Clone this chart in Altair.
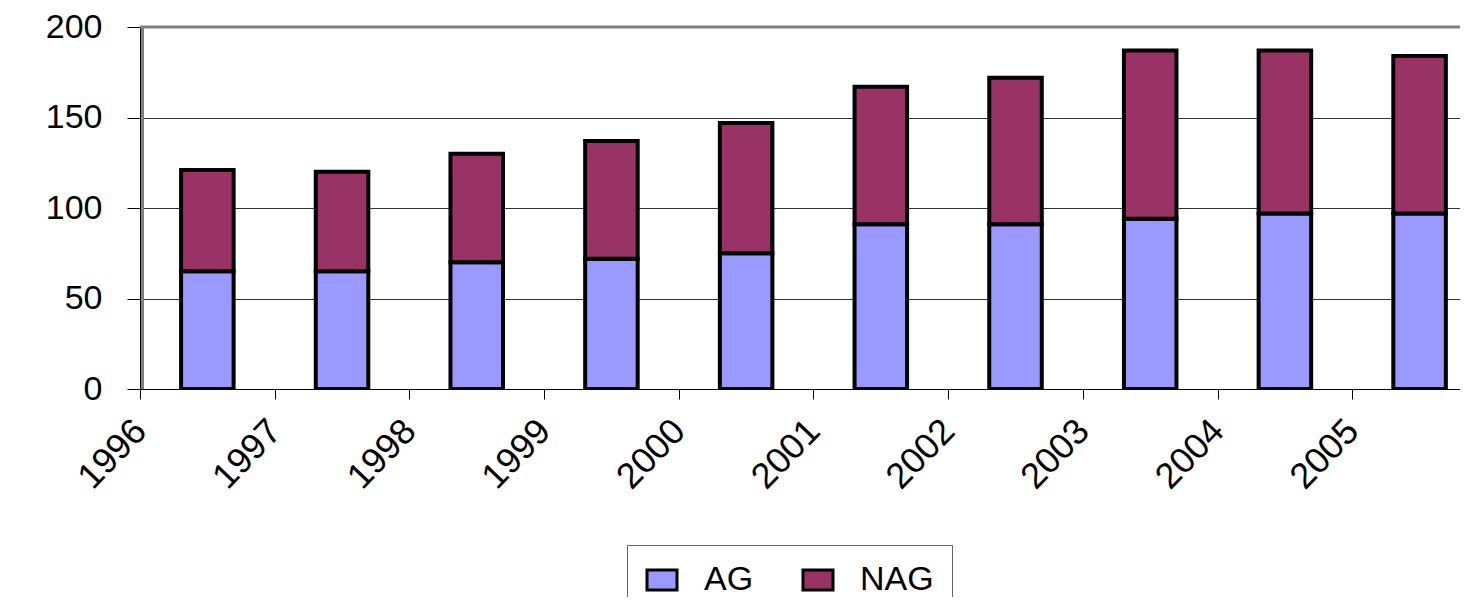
import json
import altair as alt
import pandas as pd

years = ["1996", "1997", "1998", "1999", "2000", "2001", "2002", "2003", "2004", "2005"]
ag = [65, 65, 70, 72, 75, 91, 91, 94, 97, 97]
nag = [56, 55, 60, 65, 72, 76, 81, 93, 90, 87]
series = ["AG", "NAG"]
colors = ["#9999FF", "#993366"]
y_ticks = [0, 50, 100, 150, 200]

W, H = 1320, 362
TOP = 19
FONT = "Liberation Sans"
half = 0.195

rows = []
for i, yr in enumerate(years):
    rows.append(dict(year=yr, idx=i, series="AG", lo=0, hi=ag[i]))
    rows.append(dict(year=yr, idx=i, series="NAG", lo=ag[i], hi=ag[i] + nag[i]))
df = pd.DataFrame(rows)
df["x0"] = df["idx"] + 0.5 - half
df["x1"] = df["idx"] + 0.5 + half

xscale = alt.Scale(domain=[0, 9.8], nice=False, zero=False)
yscale = alt.Scale(domain=[0, 200], nice=False)

bars = alt.Chart(df).mark_bar(stroke="black", strokeWidth=4, clip=True).encode(
    x=alt.X("x0:Q", scale=xscale,
            axis=alt.Axis(values=list(range(len(years))),
                          labelExpr=f"{json.dumps(years)}[datum.value]",
                          title="", grid=False, tickSize=10, tickColor="black",
                          domainColor="black", labelAngle=314, labelAlign="right",
                          labelBaseline="middle", labelFontSize=36, labelPadding=26,
                          labelFlush=False, labelOverlap=False, labelBound=False,
                          labelColor="black", labelFont=FONT)),
    x2="x1:Q",
    y=alt.Y("lo:Q", scale=yscale,
            axis=alt.Axis(values=y_ticks, title="", tickSize=13, tickColor="black",
                          domainColor="black", labelPadding=25, labelFontSize=34,
                          labelColor="black", labelFont=FONT, gridColor="#333333",
                          gridWidth=1)),
    y2="hi:Q",
    color=alt.Color("series:N", scale=alt.Scale(domain=series, range=colors),
                    legend=alt.Legend(orient="none", legendX=487, legendY=545 - 8 - TOP,
                                      direction="horizontal", title="",
                                      symbolType="M-1.5,-1L1.5,-1L1.5,1L-1.5,1Z",
                                      symbolSize=400, symbolStrokeColor="black",
                                      symbolStrokeWidth=3, symbolOpacity=1,
                                      labelFontSize=34, labelFont=FONT,
                                      labelColor="black", strokeColor="#666666",
                                      fillColor="white", padding=18,
                                      columnPadding=43, labelOffset=25)),
)

top_border = alt.Chart(pd.DataFrame({"v": [y_ticks[-1]]})).mark_rule(
    color="#808080", strokeWidth=3).encode(y=alt.Y("v:Q", scale=yscale))
left_border = alt.Chart(pd.DataFrame({"v": [0]})).mark_rule(
    color="#808080", strokeWidth=3).encode(
    x=alt.value(2.5), y=alt.value(0), y2=alt.value(H))

chart = alt.layer(bars, top_border, left_border).properties(
    width=W, height=H, autosize="none",
    padding={"left": 132, "top": TOP, "right": 0, "bottom": 589 - TOP - H},
).configure_view(fill="#C0C0C0", stroke=None).configure(font=FONT)

chart.save("out.html", embed_options={"renderer": "svg", "actions": False})
